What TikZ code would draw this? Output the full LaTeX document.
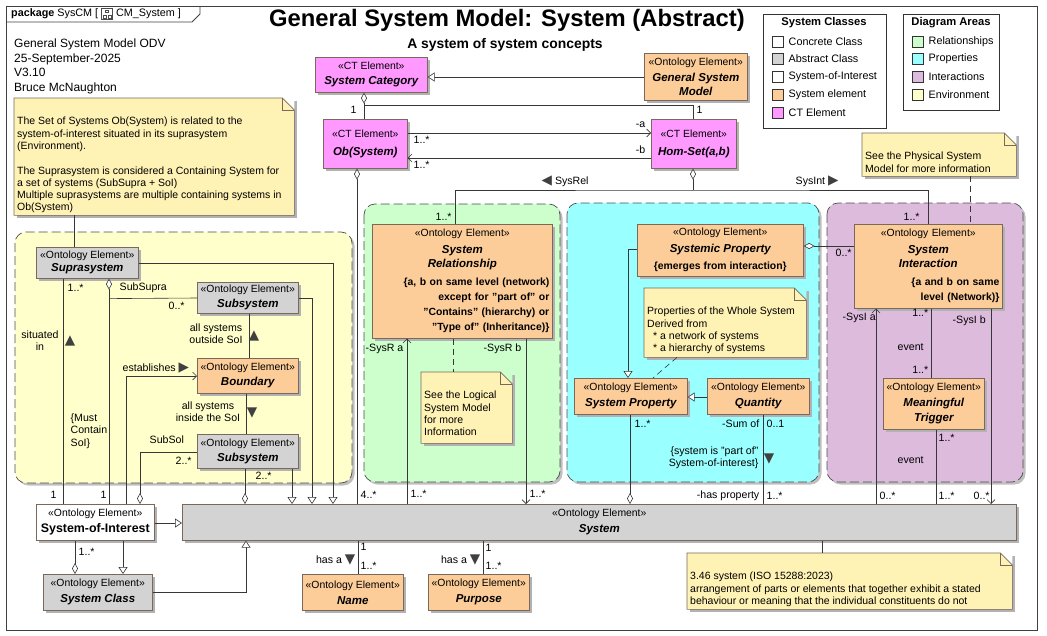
\documentclass[tikz,border=0pt]{standalone}
\usepackage{fontspec}
\setmainfont{Liberation Sans}
\newfontfamily\symfont{DejaVu Sans}
\usetikzlibrary{arrows.meta,shadows,positioning}

\definecolor{ctpink}{RGB}{255,153,255}
\definecolor{sysorange}{RGB}{252,204,153}
\definecolor{absgray}{RGB}{211,211,211}
\definecolor{envyellow}{RGB}{255,255,204}
\definecolor{relgreen}{RGB}{204,255,204}
\definecolor{propcyan}{RGB}{153,255,255}
\definecolor{intpurple}{RGB}{221,187,221}
\definecolor{notecol}{RGB}{255,242,181}
\definecolor{edgecol}{RGB}{122,104,90}
\definecolor{linecol}{RGB}{55,55,55}
\definecolor{tricol}{RGB}{64,64,64}

\newcommand\stereo[1]{«#1»}
\newcommand\nm[1]{{\fontsize{11.5}{15}\selectfont\bfseries\itshape #1}}
\newcommand\tri[1]{{\symfont\fontsize{13.5}{13.5}\selectfont\textcolor{tricol}{#1}}}
\newcommand\notetext[3]{\parbox[c][#2pt][t]{#1pt}{\raggedright\vspace*{19pt}#3}}
\newcommand\notefold[2]{%
  \fill[#2] ([xshift=-12pt]#1.north east) -- (#1.north east) -- ([yshift=-12pt]#1.north east) -- cycle;
  \draw[edgecol,line width=0.6pt] (#1.north west) -- ([xshift=-12pt]#1.north east) -- ([yshift=-12pt]#1.north east) -- (#1.south east) -- (#1.south west) -- cycle;
  \draw[edgecol,line width=0.6pt] ([xshift=-12pt]#1.north east) |- ([yshift=-12pt]#1.north east);}

\tikzset{
  sz/.style 2 args={minimum width=#1pt, minimum height=#2pt},
  elem/.style={draw=edgecol, line width=0.6pt, anchor=north west, align=center, inner sep=1pt,
    font=\fontsize{10.4}{15}\selectfont,
    drop shadow={shadow xshift=2.5pt, shadow yshift=-2.5pt, fill=black!30, opacity=1}},
  ctel/.style={elem, fill=ctpink},
  ontel/.style={elem, fill=sysorange},
  abstel/.style={elem, fill=absgray},
  concel/.style={elem, fill=white},
  note/.style={fill=notecol, anchor=north west, inner xsep=3pt, inner ysep=0pt,
    font=\fontsize{10.5}{12.3}\selectfont,
    drop shadow={shadow xshift=2.5pt, shadow yshift=-2.5pt, fill=black!30, opacity=1}},
  area/.style={draw=black!70, line width=0.7pt, dash pattern=on 9pt off 4pt, rounded corners=11pt,
    drop shadow={shadow xshift=2.5pt, shadow yshift=-2.5pt, fill=black!25, opacity=1}},
  lbl/.style={anchor=west, inner sep=0.5pt, font=\fontsize{10.6}{12.3}\selectfont},
  conn/.style={draw=linecol, line width=0.6pt},
  gen/.style={conn, -{Triangle[length=7pt,width=9pt,fill=white]}},
  nav/.style={conn, -{Straight Barb[length=4pt,width=8pt]}},
  agg/.style={conn, {Diamond[length=11pt,width=6pt,fill=white]}-},
  dep/.style={conn, dash pattern=on 6pt off 4pt},
  legbox/.style={draw=black!80, line width=0.6pt, anchor=north west},
  swatch/.style={draw=black!80, line width=0.6pt, minimum size=11pt, inner sep=0pt},
  legtxt/.style={anchor=west, inner sep=0.5pt, font=\fontsize{10.8}{12}\selectfont},
}

\begin{document}
\begin{tikzpicture}[x=1pt,y=-1pt]
\useasboundingbox (0,0) rectangle (1047,635);

% frame and tab
\draw[black!75, line width=0.8pt] (6,6) rectangle (1037,630);
\draw[black!75, line width=0.8pt] (6,22) -- (192,22) -- (200,14) -- (200,6);
\node (tabA) at (11,14) [anchor=west, inner sep=0pt, font=\fontsize{10.8}{12}\selectfont] {\textbf{package} SysCM [};
\node (tabIcon) [right=3pt of tabA, draw=black!70, line width=0.5pt, minimum size=11pt, inner sep=0pt] {};
\draw[black!70, line width=0.5pt] ([shift={(-1.5,-4)}]tabIcon.center) rectangle ([shift={(1.5,-1.5)}]tabIcon.center);
\draw[black!70, line width=0.5pt] ([shift={(-4,1.5)}]tabIcon.center) rectangle ([shift={(-1,4)}]tabIcon.center);
\draw[black!70, line width=0.5pt] ([shift={(1,1.5)}]tabIcon.center) rectangle ([shift={(4,4)}]tabIcon.center);
\node (tabB) [right=3pt of tabIcon, inner sep=0pt, font=\fontsize{10.8}{12}\selectfont] {CM\_System ]};

% titles and header
\node (title) at (507,20) [font=\fontsize{23.8}{28}\selectfont\bfseries] {General System Model: System (Abstract)};
\node (subtitle) at (505,45) [font=\fontsize{13.9}{16}\selectfont\bfseries] {A system of system concepts};
\node (hdr) at (14,38.5) [anchor=north west, align=left, inner sep=0pt, font=\fontsize{12}{14.7}\selectfont] {General System Model ODV\\25-September-2025\\V3.10\\Bruce McNaughton};

% legends
\node[legbox, sz={123}{114}] (legCls) at (763,14) {};
\node (legClsT) at (824,23) [font=\fontsize{11.2}{12}\selectfont\bfseries] {System Classes};
\node[swatch, fill=white] (swC1) at (777.5,42) {};
\node[legtxt] (ltC1) at (788,42) {Concrete Class};
\node[swatch, fill=absgray] (swC2) at (777.5,59) {};
\node[legtxt] (ltC2) at (788,59) {Abstract Class};
\node[swatch, fill=white] (swC3) at (777.5,77) {};
\node[legtxt] (ltC3) at (788,77) {System-of-Interest};
\node[swatch, fill=sysorange] (swC4) at (777.5,95) {};
\node[legtxt] (ltC4) at (788,95) {System element};
\node[swatch, fill=ctpink] (swC5) at (777.5,113) {};
\node[legtxt] (ltC5) at (788,113) {CT Element};
\node[legbox, sz={96}{96}] (legArea) at (903,14) {};
\node (legAreaT) at (951,23) [font=\fontsize{11.2}{12}\selectfont\bfseries] {Diagram Areas};
\node[swatch, fill=relgreen] (swA1) at (917.5,42) {};
\node[legtxt] (ltA1) at (928,42) {Relationships};
\node[swatch, fill=propcyan] (swA2) at (917.5,59) {};
\node[legtxt] (ltA2) at (928,59) {Properties};
\node[swatch, fill=intpurple] (swA3) at (917.5,77) {};
\node[legtxt] (ltA3) at (928,77) {Interactions};
\node[swatch, fill=envyellow] (swA4) at (917.5,95) {};
\node[legtxt] (ltA4) at (928,95) {Environment};

% diagram areas
\filldraw[area, fill=envyellow] (15,232) rectangle (352,483);
\filldraw[area, fill=relgreen] (364,204) rectangle (560,482);
\filldraw[area, fill=propcyan] (567,203) rectangle (819,482);
\filldraw[area, fill=intpurple] (827,203) rectangle (1023,482);

% category theory elements
\node[ctel, sz={112}{35}] (syscat) at (315,57) {\stereo{CT Element}\\\nm{System Category}};
\node[ontel, sz={103}{47}] (gsm) at (644,53) {\stereo{Ontology Element}\\[1pt]\nm{General System}\\[-1pt]\nm{Model}};
\node[ctel, sz={84}{49}] (obsys) at (323,119) {\stereo{CT Element}\\[3pt]\nm{Ob(System)}};
\node[ctel, sz={85}{49}] (homset) at (651,119) {\stereo{CT Element}\\[3pt]\nm{Hom-Set(a,b)}};

% environment
\node[abstel, sz={102}{31}] (supra) at (36,247) {\stereo{Ontology Element}\\[-2pt]\nm{Suprasystem}};
\node[abstel, sz={101}{31}] (subA) at (197,282) {\stereo{Ontology Element}\\[0pt]\nm{Subsystem}};
\node[ontel, sz={101}{35}] (bound) at (197,358) {\stereo{Ontology Element}\\\nm{Boundary}};
\node[abstel, sz={101}{34}] (subB) at (197,434) {\stereo{Ontology Element}\\\nm{Subsystem}};

% relationships, properties, interactions
\node[ontel, sz={180}{114}, text width=174pt] (sysrel) at (372,224) {\stereo{Ontology Element}\\[2pt]\nm{System}\\[-1pt]\nm{Relationship}\\[3pt]
  \hspace*{\fill}\textbf{\{a, b on same level (network)}\\
  \hspace*{\fill}\textbf{except for "part of" or}\\
  \hspace*{\fill}\textbf{"Contains" (hierarchy) or}\\
  \hspace*{\fill}\textbf{"Type of" (Inheritance)\}}};
\node[ontel, sz={166}{52}] (systemic) at (637,224) {\stereo{Ontology Element}\\[2pt]\nm{Systemic Property}\\[2pt]\textbf{\{emerges from interaction\}}};
\node[ontel, sz={113}{36}] (sprop) at (574,378) {\stereo{Ontology Element}\\[1pt]\nm{System Property}};
\node[ontel, sz={102}{36}] (qty) at (707,378) {\stereo{Ontology Element}\\[1pt]\nm{Quantity}};
\node[ontel, sz={148}{84}, text width=142pt] (sysint) at (854,224) {\stereo{Ontology Element}\\[2pt]\nm{System}\\[-1pt]\nm{Interaction}\\[3pt]
  \hspace*{\fill}\textbf{\{a and b on same}\\
  \hspace*{\fill}\textbf{level (Network)\}}};
\node[ontel, sz={101}{51}] (trig) at (883,378) {\stereo{Ontology Element}\\[1pt]\nm{Meaningful}\\\nm{Trigger}};

% system row
\node[abstel, sz={834}{36}] (system) at (182,504) {\stereo{Ontology Element}\\[1pt]\nm{System}};
\node[concel, sz={118}{36}] (soi) at (36,504) {\stereo{Ontology Element}\\[1pt]{\fontsize{12.4}{15}\selectfont\bfseries System-of-Interest}};
\node[abstel, sz={109}{36}] (sclass) at (43,574) {\stereo{Ontology Element}\\[1pt]\nm{System Class}};
\node[ontel, sz={101}{36}] (name) at (302,574) {\stereo{Ontology Element}\\[1pt]\nm{Name}};
\node[ontel, sz={101}{36}] (purpose) at (428,574) {\stereo{Ontology Element}\\[1pt]\nm{Purpose}};

% notes
\node[note] (note1) at (14,98) {\notetext{274}{117}{The Set of Systems Ob(System) is related to the\\system-of-interest situated in its suprasystem\\(Environment).\\[12.3pt]The Suprasystem is considered a Containing System for\\a set of systems (SubSupra + SoI)\\Multiple suprasystems are multiple containing systems in\\Ob(System)}};
\notefold{note1}{white}
\node[note] (physnote) at (862,133) {\notetext{148}{43}{See the Physical System\\Model for more information}};
\notefold{physnote}{white}
\node[note] (logic) at (421,372) {\notetext{85}{71}{See the Logical\\System Model\\for more\\Information}};
\notefold{logic}{relgreen}
\node[note] (propnote) at (644,288) {\notetext{156}{69}{Properties of the Whole System\\Derived from\\\hspace*{6pt}* a network of systems\\\hspace*{6pt}* a hierarchy of systems}};
\notefold{propnote}{propcyan}
\node[note] (isonote) at (687,553) {\notetext{319}{56}{3.46 system (ISO 15288:2023)\\arrangement of parts or elements that together exhibit a stated\\behaviour or meaning that the individual constituents do not}};
\notefold{isonote}{white}

% top connectors
\draw[gen] (gsm.west |- 0,77) -- (syscat.east |- 0,77);
\draw[agg] (syscat.south -| 364,0) -- (obsys.north -| 364,0);
\draw[conn] (syscat.south -| 364,0) ++(0,13) -| (homset.north -| 693,0);
\draw[nav] (obsys.east |- 0,133) -- (homset.west |- 0,133);
\draw[nav] (homset.west |- 0,158) -- (obsys.east |- 0,158);
\draw[agg] (obsys.south -| 357,0) -- (system.north -| 357,0);
\coordinate (hub) at (693,190);
\draw[agg] (homset.south -| hub) -- (hub);
\draw[conn] (sysrel.north -| 455,0) |- (hub) -| (sysint.north -| 928,0);
\draw[dep] (physnote.south -| 970,0) -- (sysint.north -| 970,0);

% relationship connectors
\draw[nav] (system.north -| 407,0) -- (sysrel.south -| 407,0);
\draw[nav] (sysrel.south -| 526,0) -- (system.north -| 526,0);
\draw[dep] (sysrel.south -| 453,0) -- (logic.north -| 453,0);

% property connectors
\draw[gen] (systemic.west |- 0,249) -| (sprop.north -| 628,0);
\draw[agg] (systemic.east |- 0,246) -- (sysint.west |- 0,246);
\draw[dep] (propnote.south -| 677,0) -- (sprop.north -| 653,0);
\draw[gen] (qty.west |- 0,397) -- (sprop.east |- 0,397);
\draw[agg] (system.north -| 630,0) -- (sprop.south -| 630,0);
\draw[conn] (qty.south -| 763,0) -- (system.north -| 763,0);

% interaction connectors
\draw[nav] (system.north -| 876,0) -- (sysint.south -| 876,0);
\draw[conn] (sysint.south -| 931,0) -- (trig.north -| 931,0);
\draw[conn] (trig.south -| 936,0) -- (system.north -| 936,0);
\draw[nav] (sysint.south -| 991,0) -- (system.north -| 991,0);

% environment connectors
\draw[conn] (note1.south -| 74,0) -- (supra.north -| 74,0);
\draw[conn] (supra.south -| 63,0) -- (soi.north -| 63,0);
\draw[agg] (supra.south -| 109,0) -- (soi.north -| 109,0);
\draw[conn] (supra.south -| 109,0) ++(0,20) -- (subA.west |- 0,298);
\draw[nav] (soi.north -| 126,0) |- (bound.west |- 0,376);
\draw[agg] (soi.north -| 140,0) |- (subB.west |- 0,452);
\draw[conn] (subA.south -| 249,0) -- (bound.north -| 249,0);
\draw[conn] (bound.south -| 246,0) -- (subB.north -| 246,0);
\draw[agg] (system.north -| 245,0) -- (subB.south -| 245,0);
\draw[gen] (subB.south -| 292,0) -- (system.north -| 292,0);
\draw[gen] (subA.east |- 0,298) -| (system.north -| 312,0);
\draw[gen] (supra.east |- 0,263) -| (system.north -| 333,0);
\draw[gen] (soi.east |- 0,523) -- (system.west |- 0,523);
\draw[agg] (sclass.north -| 75,0) -- (soi.south -| 75,0);
\draw[gen] (soi.south -| 123,0) -- (sclass.north -| 123,0);
\draw[gen] (sclass.east |- 0,592) -| (system.south -| 246,0);
\draw[conn] (system.south -| 358,0) -- (name.north -| 358,0);
\draw[conn] (system.south -| 483,0) -- (purpose.north -| 483,0);
\draw[conn] (system.south -| 822,0) -- (isonote.north -| 822,0);

% labels: top
\node (mCat) at (350,110) [lbl] {1};
\node (mHom) at (696,110) [lbl] {1};
\node (lA) at (646,125) [lbl, anchor=east] {-a};
\node (mA) at (413,140) [lbl] {1..*};
\node (lB) at (646,150) [lbl, anchor=east] {-b};
\node (mB) at (413,165) [lbl] {1..*};
\node (m4) at (360,495) [lbl] {4..*};
\node (mRel) at (435,217) [lbl] {1..*};
\node (mInt) at (903,217) [lbl] {1..*};
\node (lSysRel) at (541,181) [lbl] {\tri{◀} SysRel};
\node (lSysInt) at (795,181) [lbl] {SysInt \tri{▶}};

% labels: relationships
\node (lRa) at (365,349) [lbl] {-SysR a};
\node (mRa) at (410,494) [lbl] {1..*};
\node (lRb) at (483,349) [lbl] {-SysR b};
\node (mRb) at (529,494) [lbl] {1..*};

% labels: properties
\node (m0Int) at (835,253) [lbl] {0..*};
\node (mProp) at (634,424) [lbl] {1..*};
\node (lSum) at (760,424) [lbl, anchor=east] {-Sum of};
\node (mSum) at (766,424) [lbl] {0..1};
\node (lPartOf) at (759,458) [lbl, anchor=east, align=right] {\{system is "part of"\\System-of-interest\}};
\node (tPartOf) at (769,459) [lbl, anchor=center] {\tri{▼}};
\node (lHasProp) at (760,496) [lbl, anchor=east] {-has property};
\node (mHasProp) at (766,496) [lbl] {1..*};

% labels: interactions
\node (lIa) at (842,318) [lbl] {-SysI a};
\node (mIa) at (879,496) [lbl] {0..*};
\node (mEv1) at (929,313) [lbl, anchor=east] {1..*};
\node (lEv1) at (897,347) [lbl] {event};
\node (mEv2) at (929,370) [lbl, anchor=east] {1..*};
\node (mEv3) at (938,438) [lbl] {1..*};
\node (lEv2) at (897,460) [lbl] {event};
\node (mEv4) at (938,496) [lbl] {1..*};
\node (lIb) at (952,321) [lbl] {-SysI b};
\node (mIb) at (973,496) [lbl] {0..*};

% labels: environment
\node (mSitu) at (67,288) [lbl] {1..*};
\node (lSitu) at (40,341) [lbl, anchor=center, align=center] {situated\\in};
\node (tSitu) at (70,341) [lbl, anchor=center] {\tri{▲}};
\node (mSitu1) at (50,495) [lbl] {1};
\node (mMust1) at (100,495) [lbl] {1};
\node (lMust) at (70,431) [lbl, align=left] {\{Must\\Contain\\SoI\}};
\node (lSubSupra) at (119,288) [lbl] {SubSupra};
\node (mSubSupra) at (168,306) [lbl] {0..*};
\node (lEst) at (122,368) [lbl] {establishes \tri{▶}};
\node (lSubSol) at (149,440) [lbl] {SubSol};
\node (mSubSol) at (175,461) [lbl] {2..*};
\node (lOut) at (216,334) [lbl, anchor=center, align=center] {all systems\\outside SoI};
\node (tOut) at (254,336) [lbl, anchor=center] {\tri{▲}};
\node (lIn) at (208,412) [lbl, anchor=center, align=center] {all systems\\inside the SoI};
\node (tIn) at (252,413) [lbl, anchor=center] {\tri{▼}};
\node (mSubB) at (255,476) [lbl] {2..*};

% labels: system row
\node (mCls) at (78,552) [lbl] {1..*};
\node (mName1) at (360,547) [lbl] {1};
\node (mName2) at (360,566) [lbl] {1..*};
\node (lName) at (356,560) [lbl, anchor=east] {has a \tri{▼}};
\node (mPur1) at (485,548) [lbl] {1};
\node (mPur2) at (485,566) [lbl] {1..*};
\node (lPur) at (481,560) [lbl, anchor=east] {has a \tri{▼}};
\end{tikzpicture}
\end{document}
